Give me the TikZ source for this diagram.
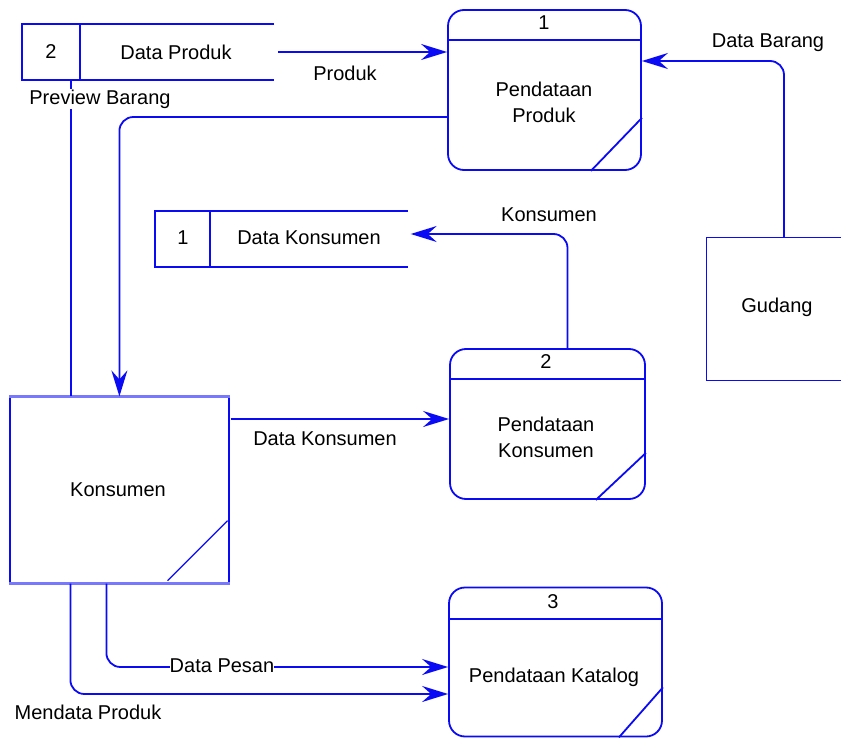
\documentclass[tikz,border=0pt]{standalone}
\usepackage{fontspec}
\setmainfont{Liberation Sans}
\usetikzlibrary{arrows.meta}
\definecolor{dfdblue}{RGB}{10,10,245}
\definecolor{dfdlight}{RGB}{120,120,255}
\begin{document}
\begin{tikzpicture}[x=1pt,y=-1pt,
  edge/.style={draw=dfdblue, line width=1.8pt},
  thinedge/.style={draw=dfdblue, line width=1.2pt},
  link/.style={edge, rounded corners=14pt},
  flow/.style={link, -{Stealth[length=26pt,width=16pt,inset=9pt]}},
  proc/.style={rectangle, draw=dfdblue, line width=1.8pt, rounded corners=16pt, inner sep=0pt},
  lbl/.style={font=\fontsize{20}{26}\selectfont, text=black, inner sep=1pt, align=center},
  tag/.style={lbl, fill=white}
]
\useasboundingbox (0,0) rectangle (841,738);

% ---- processes ----
\node[proc, minimum width=193pt, minimum height=160pt] (p1) at (544.5,90) {};
\draw[edge] ([yshift=-31pt]p1.north west) -- ([yshift=-31pt]p1.north east);
\draw[edge] ([xshift=-51pt]p1.south east) -- ([yshift=53pt]p1.south east);
\node[lbl] (p1n) at (544,23) {1};
\node[lbl] (p1t) at (544,102) {Pendataan\\Produk};

\node[proc, minimum width=195pt, minimum height=150pt] (p2) at (547.5,424) {};
\draw[edge] ([yshift=-31pt]p2.north west) -- ([yshift=-31pt]p2.north east);
\draw[edge] ([xshift=-50pt]p2.south east) -- ([yshift=47pt]p2.south east);
\node[lbl] (p2n) at (546,362) {2};
\node[lbl] (p2t) at (546,437) {Pendataan\\Konsumen};

\node[proc, minimum width=213pt, minimum height=149pt] (p3) at (555.5,662) {};
\draw[edge] ([yshift=-32pt]p3.north west) -- ([yshift=-32pt]p3.north east);
\draw[edge] ([xshift=-44pt]p3.south east) -- ([yshift=50pt]p3.south east);
\node[lbl] (p3n) at (553,602) {3};
\node[lbl] (p3t) at (554,677) {Pendataan Katalog};

% ---- data stores ----
\node[minimum width=252pt, minimum height=56pt, inner sep=0pt] (ds2) at (148,52) {};
\draw[edge] (ds2.north east) -- (ds2.north west) -- (ds2.south west) -- (ds2.south east);
\draw[edge] ([xshift=58pt]ds2.north west) -- ([xshift=58pt]ds2.south west);
\node[lbl] (ds2n) at (51,52) {2};
\node[lbl] (ds2t) at (176,52) {Data Produk};

\node[minimum width=252pt, minimum height=55pt, inner sep=0pt] (ds1) at (281.5,239) {};
\draw[edge] (ds1.north east) -- (ds1.north west) -- (ds1.south west) -- (ds1.south east);
\draw[edge] ([xshift=55pt]ds1.north west) -- ([xshift=55pt]ds1.south west);
\node[lbl] (ds1n) at (183,238) {1};
\node[lbl] (ds1t) at (309,238) {Data Konsumen};

% ---- external entities ----
\node[minimum width=134pt, minimum height=142pt, inner sep=0pt] (gud) at (774,309) {};
\draw[thinedge] (gud.north east) -- (gud.north west) -- (gud.south west) -- (gud.south east);
\node[lbl] (gudt) at (777,307) {Gudang};

\node[draw=dfdblue, line width=1.2pt, minimum width=219pt, minimum height=186pt, inner sep=0pt] (kons) at (119.5,490) {};
\draw[draw=dfdlight, line width=3pt] (kons.north west) -- (kons.north east);
\draw[draw=dfdlight, line width=3pt] (kons.south west) -- (kons.south east);
\draw[thinedge] ([xshift=-62pt,yshift=3pt]kons.south east) -- ([xshift=-2pt,yshift=63pt]kons.south east);
\node[lbl] (konst) at (118,490) {Konsumen};

% ---- data flows ----
\draw[flow] ([xshift=4pt]ds2.east) -- (ds2.east -| p1.west);
\node[lbl] (lprod) at (345,73) {Produk};

\draw[flow] ([xshift=10pt]gud.north) |- ([yshift=29pt]p1.east);
\node[lbl] (lbar) at (768,43) {Data Barang};

\draw[flow] ([yshift=-27pt]p1.west) -| ([xshift=110pt]kons.north west);

\draw[link] ([xshift=49pt]ds2.south west) -- ([xshift=49pt]ds2.south west |- kons.north);
\node[tag] (lprev) at (100,99) {Preview Barang};

\draw[flow] ([xshift=20pt]p2.north) |- ([xshift=3pt,yshift=5pt]ds1.east);
\node[lbl] (lkons) at (549,215) {Konsumen};

\coordinate (dk) at ([xshift=1pt,yshift=71pt]kons.east);
\draw[flow] (dk) -- (dk -| p2.west);
\node[lbl] (ldk) at (325,439) {Data Konsumen};

\draw[flow] ([xshift=97pt]kons.south west) |- ([yshift=-5pt]p3.west);
\node[tag, inner sep=0pt] (lpesan) at (222,666) {Data Pesan};

\draw[flow] ([xshift=61pt]kons.south west) |- ([yshift=-32pt]p3.west);
\node[lbl] (lmend) at (88,712) {Mendata Produk};
\end{tikzpicture}
\end{document}
